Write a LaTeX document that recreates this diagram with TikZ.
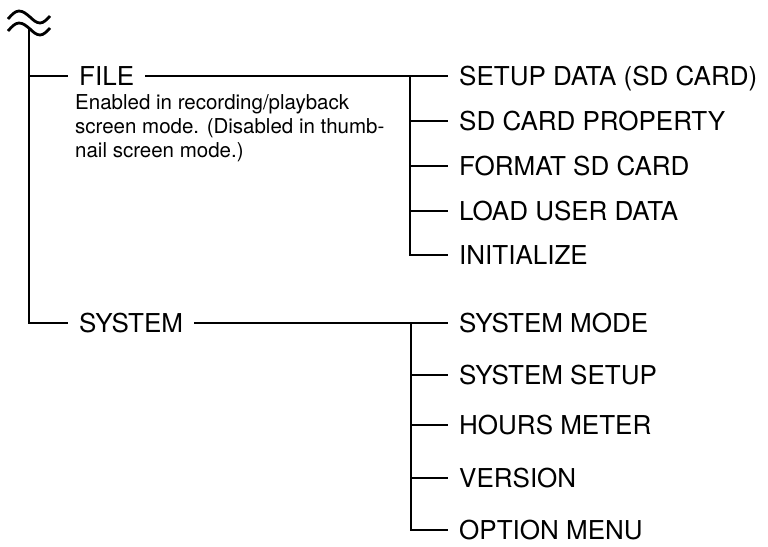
\documentclass[tikz,border=0pt]{standalone}
\usepackage{fontspec}
\setmainfont{TeX Gyre Heros}
\usetikzlibrary{positioning, calc}

\begin{document}
\begin{tikzpicture}[
    x=1pt, y=-1pt,
    item/.style={anchor=west, inner xsep=11pt, inner ysep=0pt, text height=18pt, text depth=0pt, font=\fontsize{26}{30}\selectfont},
    note/.style={anchor=north west, inner sep=0pt, align=left, font=\fontsize{20.5}{24}\selectfont},
    line/.style={line width=2.8pt, line join=miter}
]
    \useasboundingbox (0,0) rectangle (768,546);

    % Break mark
    \draw[line] (8,19) sin (19,11) cos (30,17) sin (40,23) cos (50,16);
    \draw[line] (8,31) sin (19,23) cos (30,29) sin (40,35) cos (50,28);
    \coordinate (top) at (29,29);

    % Main entries
    \node[item] (file) at (68,76) {FILE};
    \node[note] (fnote) at (75,94) {Enabled in recording/playback\\screen mode. (Disabled in thumb-\\nail screen mode.)};
    \node[item] (sys) at (68,323) {SYSTEM};

    % FILE submenu
    \node[item] (f1) at (448,76) {SETUP DATA (SD CARD)};
    \node[item] (f2) at (448,121) {SD CARD PROPERTY};
    \node[item] (f3) at (448,166) {FORMAT SD CARD};
    \node[item] (f4) at (448,211) {LOAD USER DATA};
    \node[item] (f5) at (448,255) {INITIALIZE};
    \coordinate (ffork) at (410,76);

    % SYSTEM submenu
    \node[item] (s1) at (448,323) {SYSTEM MODE};
    \node[item] (s2) at (448,375) {SYSTEM SETUP};
    \node[item] (s3) at (448,425) {HOURS METER};
    \node[item] (s4) at (448,478) {VERSION};
    \node[item] (s5) at (448,530) {OPTION MENU};
    \coordinate (sfork) at (411,323);

    % Trunk
    \draw[line] (top) |- (sys.west);
    \draw[line] (top |- file.west) -- (file.west);

    % Branches
    \draw[line] (file.east) -- (f1.west);
    \draw[line] (ffork) |- (f5.west);
    \foreach \n in {2,3,4}
        \draw[line] (ffork |- f\n.west) -- (f\n.west);

    \draw[line] (sys.east) -- (s1.west);
    \draw[line] (sfork) |- (s5.west);
    \foreach \n in {2,3,4}
        \draw[line] (sfork |- s\n.west) -- (s\n.west);

\end{tikzpicture}
\end{document}
